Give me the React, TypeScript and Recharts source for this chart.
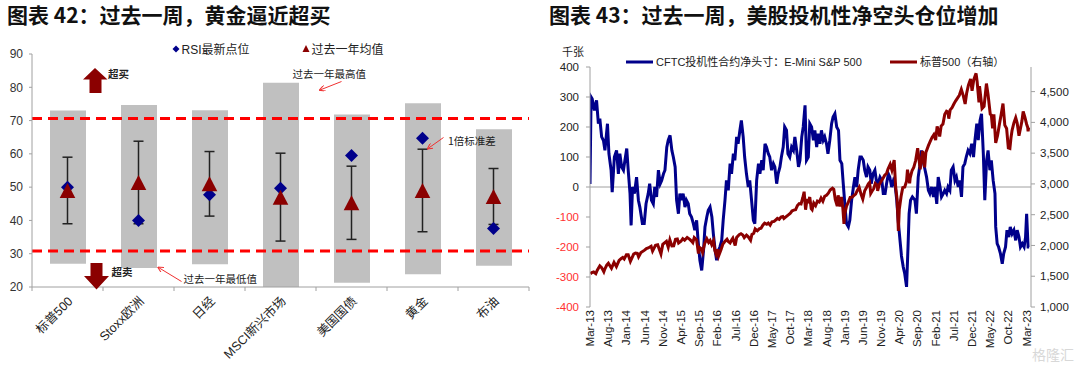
import React from "react";
import { ComposedChart, Bar, Scatter, ErrorBar, XAxis, YAxis, ReferenceLine, Line } from "recharts";

const FONT = '"Liberation Sans", Arial, "Noto Sans CJK SC", sans-serif';
const CJK = '"Noto Sans CJK SC", "Liberation Sans", sans-serif';

// ---------- Chart 42 data ----------
const assets = ["标普500", "Stoxx欧洲", "日经", "MSCI新兴市场", "美国国债", "黄金", "布油"];
const yearHigh = [73.0, 74.7, 73.1, 81.4, 71.8, 75.2, 67.4];
const yearLow = [27.0, 25.7, 26.8, 20.0, 21.3, 23.8, 26.4];
const rsiLatest = [50.0, 40.0, 47.7, 49.7, 59.5, 64.7, 37.6];
const yearMean = [49.0, 51.4, 51.0, 47.0, 45.3, 49.0, 47.2];
const yearStd = [10.0, 12.4, 9.7, 13.2, 11.0, 12.4, 8.4];
const overboughtLine = 70.6;
const oversoldLine = 30.8;
const rsiTicks = [20, 30, 40, 50, 60, 70, 80, 90];

const rsiRows = assets.map((name, i) => ({
  name,
  range: [yearLow[i], yearHigh[i]],
  rsi: rsiLatest[i],
  mean: yearMean[i],
  std: yearStd[i],
}));

// ---------- Chart 43 data ----------
const monthLabels = [
  "Mar-13", "Aug-13", "Jan-14", "Jun-14", "Nov-14", "Apr-15", "Sep-15", "Feb-16", "Jul-16",
  "Dec-16", "May-17", "Oct-17", "Mar-18", "Aug-18", "Jan-19", "Jun-19", "Nov-19", "Apr-20",
  "Sep-20", "Feb-21", "Jul-21", "Dec-21", "May-22", "Oct-22", "Mar-23",
];
const monthTicks = [0, 5, 10, 15, 20, 25, 30, 35, 40, 45, 50, 55, 60, 65, 70, 75, 80, 85, 90, 95, 100, 105, 110, 115, 120];
const cftcTicks = [-400, -300, -200, -100, 0, 100, 200, 300, 400];
const spxTicks = [1000, 1500, 2000, 2500, 3000, 3500, 4000, 4500];

// [months since Mar-13, thousand contracts]
const cftcNet: [number, number][] = [
  [0,10],[0.3,300],[0.6,294],[1.2,255],[1.8,289],[2.3,211],[2.7,228],[3.2,167],[3.7,155],[4.1,122],[4.8,211],[5.2,111],[5.8,56],[6.1,-17],[6.7,100],[7.3,122],[7.8,44],[8.2,111],[8.7,67],[9.2,56],[9.6,89],[10.1,128],[10.5,56],[11.0,-22],[11.3,-128],[11.7,0],[12.2,-22],[12.8,33],[13.3,-44],[13.7,-67],[14.4,-122],[14.9,-122],[15.4,-56],[16.0,-22],[16.4,11],[16.9,-44],[17.4,-56],[17.8,0],[18.3,-33],[18.8,56],[19.3,11],[19.7,22],[20.2,44],[20.6,56],[21.1,133],[21.5,156],[22.0,172],[22.5,122],[22.9,100],[23.4,67],[23.8,-44],[24.3,-89],[24.7,-22],[25.2,-44],[25.6,-22],[26.1,-67],[26.5,-44],[27.0,-56],[27.4,-89],[27.9,-100],[28.4,-122],[28.8,-144],[29.3,-111],[29.7,-178],[30.2,-244],[30.7,-278],[31.2,-211],[31.6,-133],[32.1,-100],[32.5,-78],[33.0,-67],[33.5,-100],[33.9,-156],[34.4,-211],[34.8,-244],[35.3,-211],[35.7,-200],[36.2,-178],[36.6,-111],[37.1,-44],[37.5,22],[38.0,-11],[38.5,78],[38.9,44],[39.4,111],[39.8,89],[40.3,167],[40.7,144],[41.2,189],[41.6,222],[42.1,167],[42.5,100],[43.0,44],[43.5,0],[43.9,22],[44.4,-44],[44.9,-111],[45.3,-122],[45.8,22],[46.3,78],[46.7,44],[47.2,89],[47.6,56],[48.1,144],[48.5,133],[49.0,111],[49.4,100],[49.9,56],[50.4,78],[50.8,67],[51.3,11],[51.7,44],[52.2,67],[52.6,100],[53.1,133],[53.5,200],[54.0,189],[54.4,111],[54.9,100],[55.4,133],[55.9,122],[56.3,167],[56.8,122],[57.3,67],[57.7,89],[58.2,167],[58.6,200],[59.1,272],[59.5,89],[60.0,100],[60.4,211],[60.9,200],[61.4,156],[61.8,189],[62.3,133],[62.7,178],[63.2,144],[63.6,189],[64.1,156],[64.5,167],[65.0,144],[65.4,111],[65.9,156],[66.4,211],[66.8,233],[67.3,244],[67.8,200],[68.3,189],[68.7,89],[69.2,78],[69.6,11],[70.1,-67],[70.5,-122],[71.0,-133],[71.4,-111],[71.9,-44],[72.4,0],[72.8,33],[73.3,0],[73.7,56],[74.2,100],[74.6,100],[75.1,89],[75.5,56],[76.0,33],[76.4,67],[76.9,56],[77.3,11],[77.8,44],[78.3,56],[78.7,22],[79.2,11],[79.7,33],[80.2,22],[80.6,-22],[81.1,-22],[81.5,11],[82.0,44],[82.4,33],[82.9,0],[83.4,22],[83.8,11],[84.3,-44],[84.7,-111],[85.2,-178],[85.6,-230],[86.1,-267],[86.5,-289],[87.0,-333],[87.4,-200],[87.7,-89],[88.1,-44],[88.6,-33],[89.3,-44],[89.7,-89],[90.2,33],[90.6,67],[91.1,122],[91.5,89],[92.1,56],[92.5,33],[93.0,-11],[93.4,-22],[93.9,0],[94.4,-33],[94.8,0],[95.3,-56],[95.7,33],[96.2,0],[96.6,-33],[97.1,-22],[97.5,-11],[98.0,-22],[98.4,0],[98.9,-11],[99.3,56],[99.8,67],[100.3,22],[100.7,33],[101.2,0],[101.6,22],[102.1,-33],[102.5,67],[103.0,78],[103.4,100],[103.9,122],[104.4,111],[104.9,144],[105.4,100],[105.8,156],[106.3,211],[106.7,156],[107.2,222],[107.6,244],[108.1,111],[108.5,-44],[109.0,89],[109.4,122],[109.9,56],[110.3,89],[110.8,22],[111.3,-22],[111.5,-133],[111.9,-189],[112.3,-200],[112.8,-222],[113.3,-256],[113.7,-222],[114.2,-200],[114.6,-144],[115.1,-167],[115.5,-133],[116.0,-156],[116.5,-144],[117.0,-178],[117.4,-144],[117.9,-167],[118.3,-200],[118.8,-189],[119.3,-200],[119.7,-167],[120.0,-89],[120.4,-200],[120.7,-200],
];

// [months since Mar-13, index level]
const spx500: [number, number][] = [
  [0.1,1540],[0.5,1560],[1,1569],[1.6,1541],[2,1597],[2.7,1669],[3.2,1640],[3.8,1573],[4,1606],[4.6,1680],[5.05,1710],[5.9,1630],[6.6,1725],[7.25,1655],[8,1757],[8.6,1790],[9,1806],[9.4,1780],[10,1848],[10.5,1848],[11.1,1741],[12,1859],[12.5,1878],[13,1872],[13.35,1815],[14,1884],[15,1924],[15.5,1950],[16,1960],[16.8,1988],[17.2,1909],[18,2003],[18.6,2011],[19.5,1862],[20,2018],[21,2068],[21.5,1972],[21.95,2090],[22.5,1992],[23,1995],[23.5,2100],[24,2105],[24.35,2040],[25,2068],[25.5,2110],[26,2086],[26.7,2130],[27.5,2095],[28,2063],[28.25,2046],[28.65,2128],[29.3,2090],[29.8,1867],[30,1972],[30.5,1950],[30.95,1884],[31.5,2030],[32.1,2109],[32.6,2050],[33,2080],[33.45,2012],[33.95,2078],[34.3,1920],[34.65,1859],[35,1940],[35.35,1829],[36,1932],[36.5,2020],[37,2060],[37.65,2102],[38,2065],[38.5,2040],[39,2097],[39.25,2119],[39.9,2000],[40.3,2130],[41,2174],[41.5,2190],[42,2171],[42.4,2127],[43,2168],[43.5,2140],[44.13,2085],[44.5,2180],[45,2199],[45.4,2271],[46,2239],[46.5,2270],[47,2279],[47.5,2330],[48,2364],[48.6,2345],[49,2363],[49.5,2330],[50,2384],[50.6,2390],[51,2412],[51.5,2440],[52,2423],[52.5,2460],[53,2470],[53.3,2438],[54,2472],[54.6,2500],[55,2519],[55.5,2560],[56,2575],[56.5,2580],[57,2648],[57.5,2680],[58,2674],[58.5,2780],[58.85,2873],[59.25,2581],[59.6,2730],[60,2714],[60.4,2786],[60.8,2600],[61.05,2582],[61.5,2690],[62,2648],[62.5,2720],[63,2705],[63.5,2770],[64,2718],[64.5,2800],[65,2816],[65.5,2850],[66,2902],[66.65,2930],[67,2914],[67.4,2750],[67.95,2641],[68.2,2814],[68.75,2633],[69.1,2790],[69.5,2600],[69.8,2351],[70,2507],[70.5,2640],[71,2704],[71.5,2780],[72,2784],[72.5,2810],[73,2834],[73.5,2900],[73.97,2946],[74.5,2830],[74.97,2752],[75.5,2890],[76,2942],[76.5,3000],[76.85,3025],[77.15,2844],[77.5,2880],[78,2926],[78.4,3009],[79,2977],[79.05,2887],[79.5,2990],[80,3038],[80.5,3090],[81,3141],[81.5,3170],[81.9,3240],[82.5,3320],[82.97,3226],[83.6,3386],[84,2954],[84.4,2750],[84.75,2237],[85,2585],[85.5,2800],[85.95,2939],[86.5,2950],[87,3044],[87.25,3232],[87.85,3009],[88,3100],[88.5,3215],[89,3271],[89.5,3380],[90.05,3580],[90.75,3237],[91.4,3534],[91.97,3270],[92.3,3510],[93,3622],[93.5,3690],[94,3756],[94.5,3800],[95,3714],[95.4,3934],[96,3811],[96.1,3768],[96.5,3940],[97,3973],[97.5,4130],[98,4181],[98.4,4170],[98.6,4060],[99,4204],[99.5,4240],[100,4298],[100.5,4350],[101,4395],[101.5,4440],[102.05,4537],[102.6,4430],[103.1,4300],[103.5,4470],[104,4605],[104.6,4705],[105,4513],[105.5,4700],[106.1,4797],[106.4,4660],[106.9,4326],[107.05,4589],[107.75,4225],[108.3,4260],[108.95,4631],[109.4,4450],[110,4132],[110.3,4120],[110.65,3901],[111,4132],[111.5,3667],[112,3785],[112.5,3960],[113,4130],[113.5,4305],[114,3955],[114.5,3900],[114.97,3586],[115.4,3577],[115.7,3750],[116,3872],[116.5,3990],[117,4076],[117.4,3990],[117.9,3783],[118.3,3900],[118.7,4020],[119.05,4179],[119.5,4090],[120,3970],[120.3,3918],[120.4,3855],[120.55,3917],
];

const cftcRows = cftcNet.map(([t, v]) => ({ t, v }));
const spxRows = spx500.map(([t, v]) => ({ t, v }));

// ---------- colors ----------
const NAVY = "#00008B";
const DARKRED = "#8B0000";
const GRAY_BAR = "#C0C0C0";
const AXIS = "#A0A0A0";

// ---------- shapes ----------
const DiamondShape = (p: any) => {
  const { cx, cy } = p;
  if (cx == null || cy == null) return <g />;
  const r = 6.5;
  return <polygon points={`${cx},${cy - r} ${cx + r},${cy} ${cx},${cy + r} ${cx - r},${cy}`} fill={NAVY} />;
};
const TriangleShape = (p: any) => {
  const { cx, cy } = p;
  if (cx == null || cy == null) return <g />;
  const w = 7.8, h = 7.5;
  return <polygon points={`${cx},${cy - h} ${cx + w},${cy + h} ${cx - w},${cy + h}`} fill={DARKRED} />;
};
const EmptyShape = () => <g />;

const AssetTick = (props: any) => {
  const { x, y, payload, index, width, visibleTicksCount } = props;
  const n = visibleTicksCount || assets.length;
  const band = width ? width / n : 71;
  const ax = x + 6;
  const ay = y + 15;
  return (
    <g>
      <line x1={x - band / 2} x2={x - band / 2} y1={y} y2={y + 4} stroke={AXIS} />
      {index === n - 1 && <line x1={x + band / 2} x2={x + band / 2} y1={y} y2={y + 4} stroke={AXIS} />}
      <text x={ax} y={ay} transform={`rotate(-45 ${ax} ${ay})`} textAnchor="end" fontSize={12.5} fill="#222" fontFamily={FONT}>
        {payload.value}
      </text>
    </g>
  );
};

function RsiChart() {
  return (
    <ComposedChart width={540} height={366} data={rsiRows} margin={{ top: 54, right: 11, bottom: 0, left: 0 }}>
      <XAxis dataKey="name" type="category" height={79} axisLine={{ stroke: AXIS }} tickLine={false} tickSize={0} tickMargin={0} tick={<AssetTick />} interval={0} />
      <YAxis domain={[20, 90]} ticks={rsiTicks} width={32} axisLine={{ stroke: AXIS }} tickLine={{ stroke: AXIS }} tickSize={3} tickMargin={6} tick={{ fontSize: 12, fill: "#333", fontFamily: FONT }} allowDataOverflow />
      <Bar dataKey="range" fill={GRAY_BAR} barSize={36} isAnimationActive={false} />
      <ReferenceLine y={overboughtLine} stroke="#FF0000" strokeWidth={3} strokeDasharray="10 6" />
      <ReferenceLine y={oversoldLine} stroke="#FF0000" strokeWidth={3} strokeDasharray="10 6" />
      <Scatter dataKey="mean" shape={<EmptyShape />} isAnimationActive={false}>
        <ErrorBar dataKey="std" direction="y" width={5} stroke="#222" strokeWidth={1.5} />
      </Scatter>
      <Scatter dataKey="rsi" shape={<DiamondShape />} isAnimationActive={false} />
      <Scatter dataKey="mean" shape={<TriangleShape />} isAnimationActive={false} />
    </ComposedChart>
  );
}

const MonthTick = (props: any) => {
  const { x, y, payload } = props;
  const i = monthTicks.indexOf(payload.value);
  return (
    <text x={x} y={y} transform={`rotate(-90 ${x} ${y})`} textAnchor="end" dominantBaseline="central" fontSize={11.5} fill="#222" fontFamily={FONT}>
      {i >= 0 ? monthLabels[i] : ""}
    </text>
  );
};

const CftcTick = (props: any) => {
  const { x, y, payload } = props;
  return (
    <text x={x} y={y} dy={4} textAnchor="end" fontSize={11.5} fill={payload.value < 0 ? "#FF3030" : "#222"} fontFamily={FONT}>
      {payload.value}
    </text>
  );
};

function CftcChart() {
  return (
    <ComposedChart width={540} height={366} margin={{ top: 67, right: 0, bottom: 0, left: 0 }}>
      <XAxis dataKey="t" type="number" domain={[0, 121.2]} ticks={monthTicks} allowDataOverflow height={59} axisLine={false} tickLine={false} tickSize={0} tickMargin={3} tick={<MonthTick />} interval={0} />
      <YAxis yAxisId="l" domain={[-400, 400]} ticks={cftcTicks} width={50} allowDataOverflow axisLine={{ stroke: AXIS }} tickLine={{ stroke: AXIS }} tickSize={4} tickMargin={7} tick={<CftcTick />} />
      <YAxis yAxisId="r" orientation="right" domain={[1000, 4900]} ticks={spxTicks} width={49} allowDataOverflow axisLine={{ stroke: AXIS }} tickLine={{ stroke: AXIS }} tickSize={4} tickMargin={5} tickFormatter={(v: number) => v.toLocaleString("en-US")} tick={{ fontSize: 11.5, fill: "#222", fontFamily: FONT }} />
      <ReferenceLine yAxisId="l" y={0} stroke={AXIS} strokeWidth={1} />
      <Line yAxisId="l" data={cftcRows} dataKey="v" type="linear" stroke={NAVY} strokeWidth={3} dot={false} isAnimationActive={false} />
      <Line yAxisId="r" data={spxRows} dataKey="v" type="linear" stroke={DARKRED} strokeWidth={3} dot={false} isAnimationActive={false} />
    </ComposedChart>
  );
}

function Overlay() {
  const arrowRed = "#F03030";
  return (
    <svg width={1080} height={366} style={{ position: "absolute", left: 0, top: 0, pointerEvents: "none" }}>
      <defs>
        <marker id="ah" markerWidth="6" markerHeight="6" refX="5" refY="3" orient="auto">
          <path d="M0,0 L6,3 L0,6" fill="none" stroke={arrowRed} strokeWidth="1" />
        </marker>
      </defs>
      {/* left legend */}
      <polygon points="176,45.5 179.5,49 176,52.5 172.5,49" fill={NAVY} />
      <text x={181.5} y={53.5} fontSize={12} fill="#222" fontFamily={FONT}>RSI最新点位</text>
      <polygon points="306,45 309.5,52 302.5,52" fill={DARKRED} />
      <text x={311.5} y={53.5} fontSize={12} fill="#222" fontFamily={FONT}>过去一年均值</text>
      {/* overbought / oversold arrows */}
      <polygon points="95,68 107.5,79.5 101.5,79.5 101.5,93 89.5,93 89.5,79.5 83,79.5" fill={DARKRED} />
      <text x={108} y={78} fontSize={10.5} fontWeight={700} fill="#222" fontFamily={CJK}>超买</text>
      <polygon points="90.5,263 102.5,263 102.5,276 109,276 96.5,289.5 84,276 90.5,276" fill={DARKRED} />
      <text x={111.5} y={276} fontSize={10.5} fontWeight={700} fill="#222" fontFamily={CJK}>超卖</text>
      {/* annotations */}
      <text x={292.5} y={78} fontSize={10.5} fill="#222" fontFamily={CJK}>过去一年最高值</text>
      <line x1={341.5} y1={81.5} x2={320} y2={90} stroke={arrowRed} strokeWidth={1} markerEnd="url(#ah)" />
      <text x={183.5} y={283} fontSize={10.5} fill="#222" fontFamily={CJK}>过去一年最低值</text>
      <line x1={181.5} y1={281.5} x2={158.5} y2={267.5} stroke={arrowRed} strokeWidth={1} markerEnd="url(#ah)" />
      <text x={448} y={145} fontSize={10.5} fill="#222" fontFamily={CJK}>1倍标准差</text>
      <line x1={443.5} y1={137.5} x2={428} y2={148.5} stroke={arrowRed} strokeWidth={1} markerEnd="url(#ah)" />
      {/* right legend */}
      <text x={562} y={56} fontSize={11} fill="#222" fontFamily={CJK}>千张</text>
      <line x1={626} y1={62} x2={653} y2={62} stroke={NAVY} strokeWidth={3} />
      <text x={656} y={66} fontSize={11} fill="#222" fontFamily={FONT}>CFTC投机性合约净头寸：E-Mini S&amp;P 500</text>
      <line x1={890} y1={62} x2={917} y2={62} stroke={DARKRED} strokeWidth={3} />
      <text x={920} y={66} fontSize={11} fill="#222" fontFamily={FONT}>标普500（右轴）</text>
      {/* watermark */}
      <text x={1032} y={360} fontSize={14} fill="#D8D8D8" fontFamily={CJK}>格隆汇</text>
    </svg>
  );
}

export default function App() {
  return (
    <div style={{ position: "fixed", left: 0, top: 0, width: 1080, height: 366, background: "#fff", overflow: "hidden", fontFamily: FONT }}>
      <div style={{ position: "absolute", left: 7, top: 2, fontSize: 21, lineHeight: "24px", fontWeight: 700, color: "#111", fontFamily: CJK, whiteSpace: "nowrap" }}>
        图表 42：过去一周，黄金逼近超买
      </div>
      <div style={{ position: "absolute", left: 549, top: 2, fontSize: 21, lineHeight: "24px", fontWeight: 700, color: "#111", fontFamily: CJK, whiteSpace: "nowrap" }}>
        图表 43：过去一周，美股投机性净空头仓位增加
      </div>
      <div style={{ position: "absolute", left: 0, top: 0 }}>
        <RsiChart />
      </div>
      <div style={{ position: "absolute", left: 540, top: 0 }}>
        <CftcChart />
      </div>
      <Overlay />
    </div>
  );
}
